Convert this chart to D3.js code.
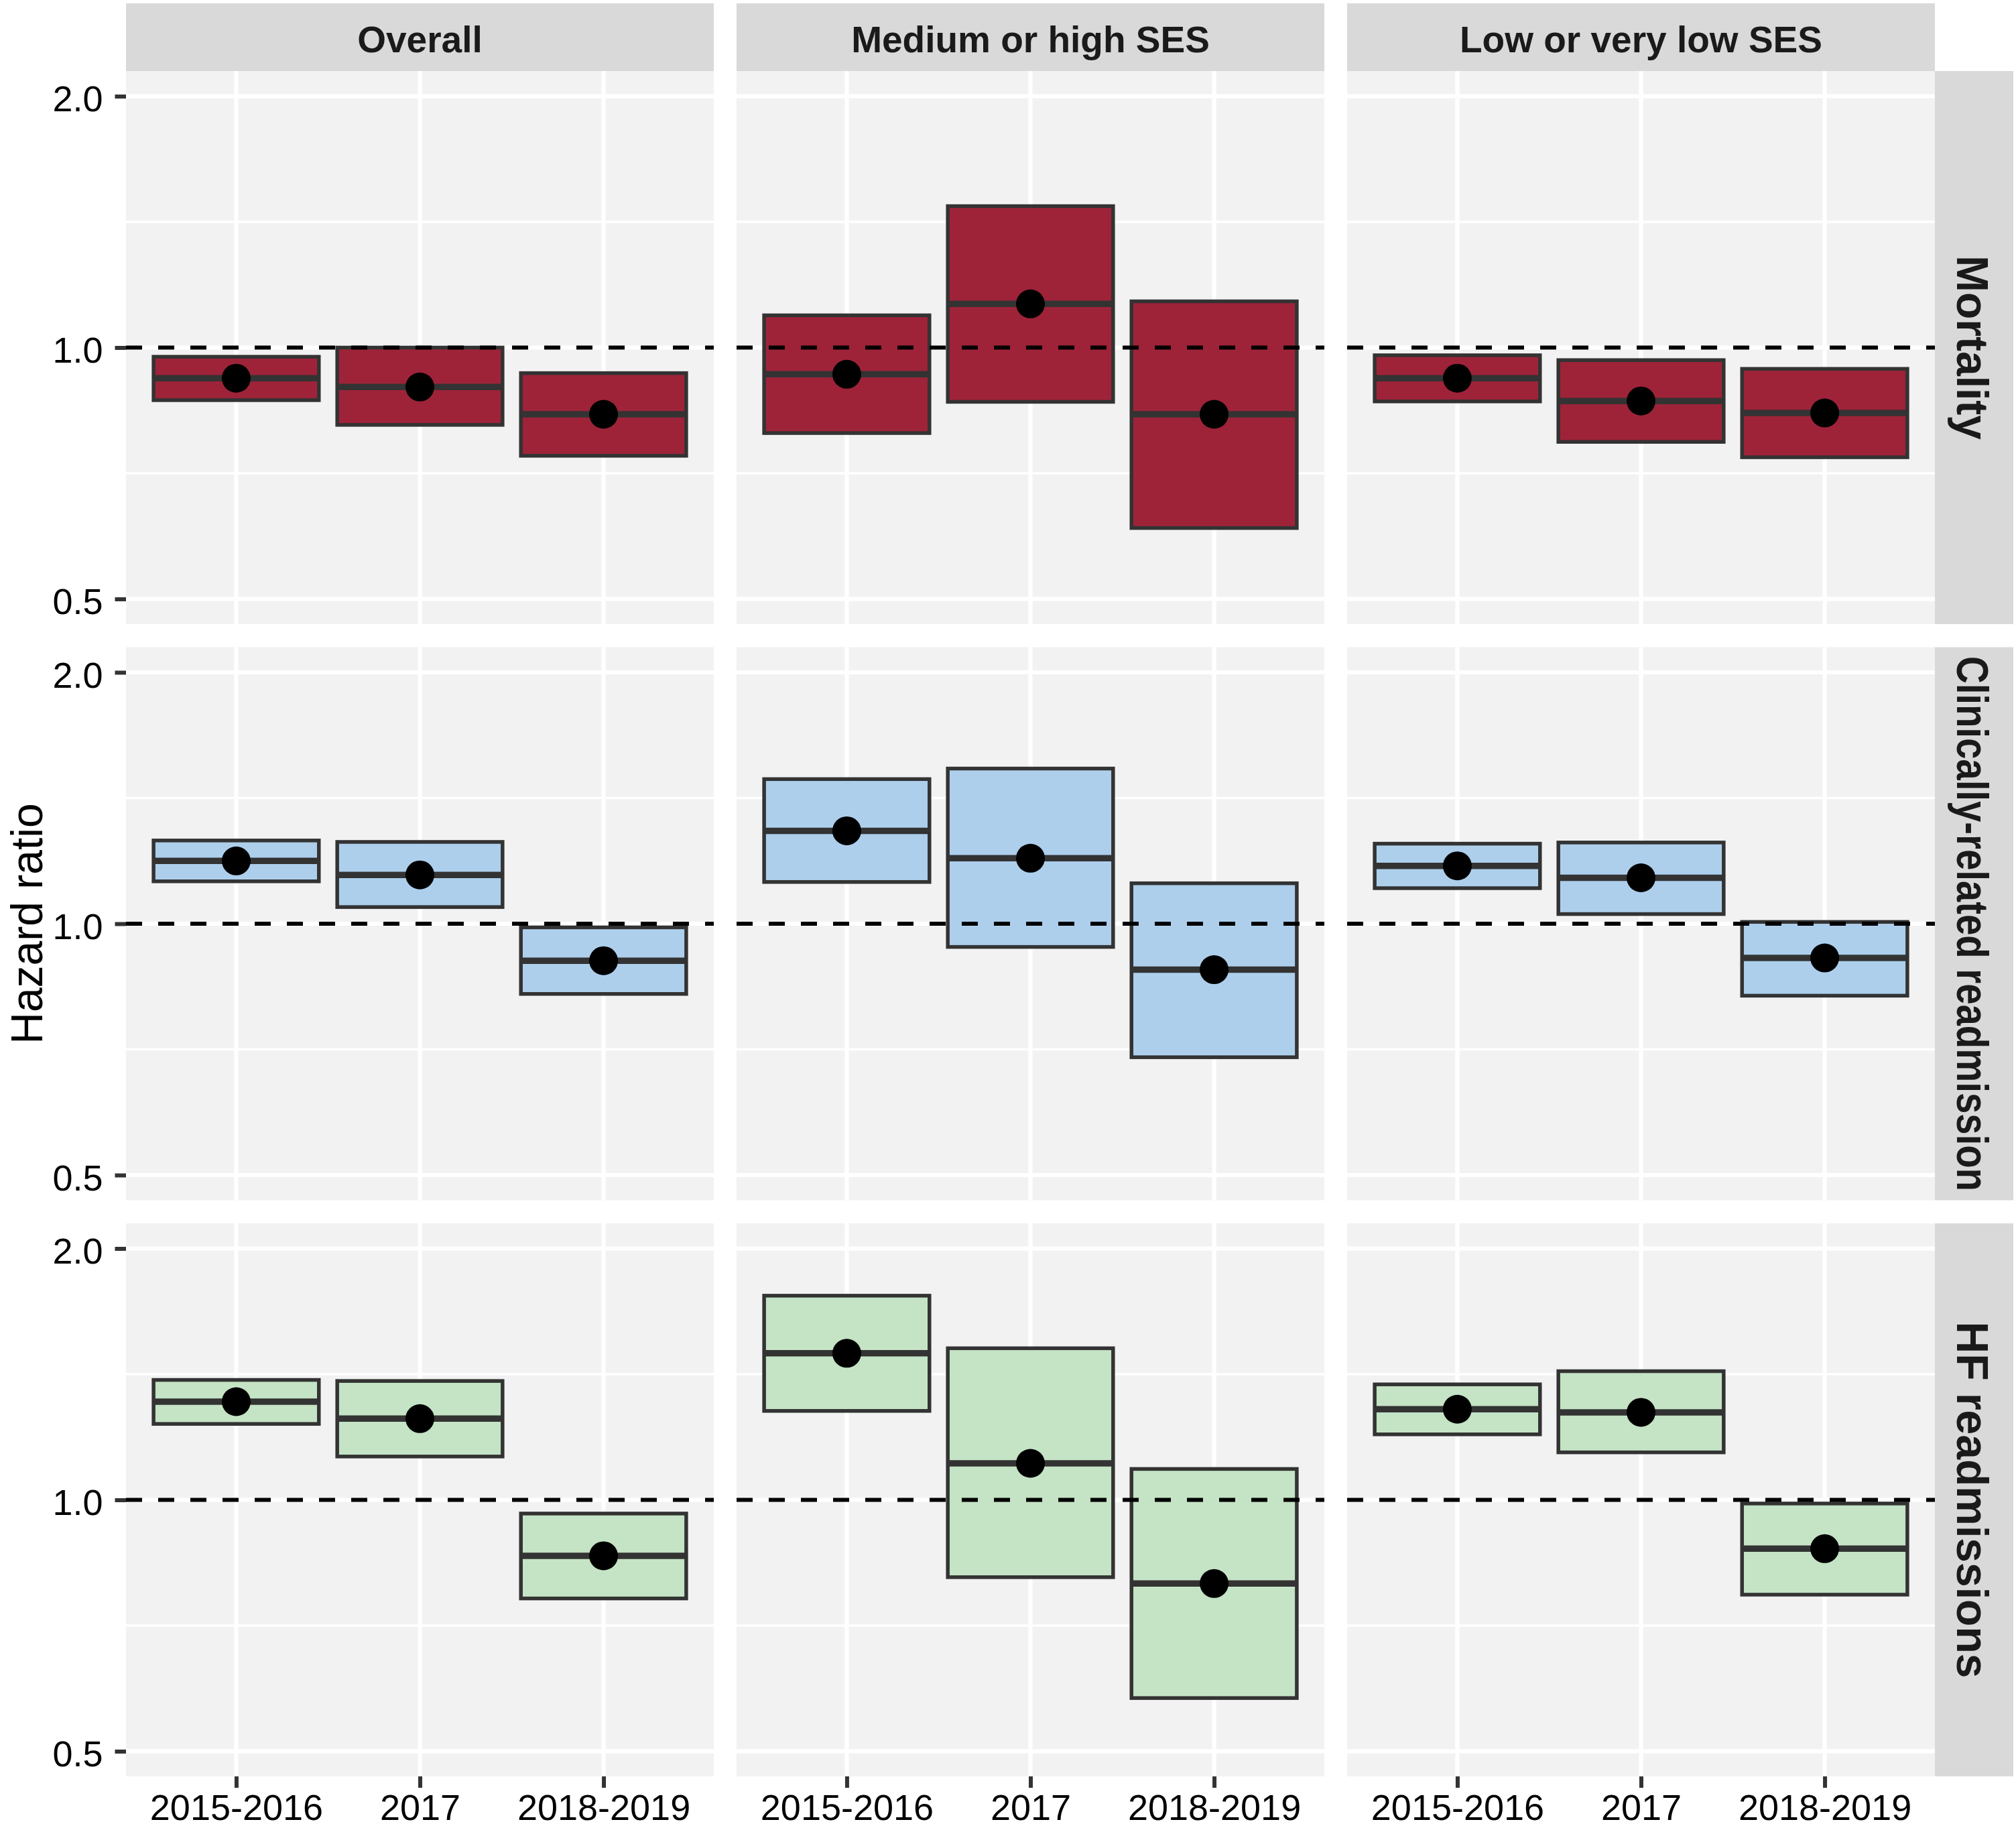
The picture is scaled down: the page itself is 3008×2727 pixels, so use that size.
<!DOCTYPE html>
<html>
<head>
<meta charset="utf-8">
<script src="https://cdn.jsdelivr.net/npm/d3@7"></script>
<style>
  body { margin: 0; background: #ffffff; }
</style>
</head>
<body>
<script>
// layout constants
const width = 3008;
const height = 2727;
const panelLeft = 188;
const panelTop = 106;
const panelW = 877;
const panelH = 825;
const colGap = 34;
const rowGap = 34.5;
const stripTop = 5;
const stripRightW = 117;

// colours
const PANEL = '#F2F2F2';
const STRIP = '#D9D9D9';
const GRID = '#FFFFFF';
const EDGE = '#333333';
const BLACK = '#000000';
const FILLS = ['#9E2339', '#ADCFEC', '#C5E3C5'];
const FONT = '"Liberation Sans", Arial, Helvetica, sans-serif';

// categories
const periods = ['2015-2016', '2017', '2018-2019'];
const groups = ['Overall', 'Medium or high SES', 'Low or very low SES'];
const outcomes = ['Mortality', 'Clinically-related readmission', 'HF readmissions'];

// hazard ratios, one row per SES group, one column per period
const mortalityHR = [[0.919, 0.897, 0.832], [0.929, 1.128, 0.832], [0.919, 0.863, 0.835]];
const mortalityLower = [[0.865, 0.808, 0.742], [0.790, 0.861, 0.608], [0.862, 0.771, 0.739]];
const mortalityUpper = [[0.975, 1.000, 0.932], [1.093, 1.477, 1.136], [0.979, 0.966, 0.943]];

const clinicalHR = [[1.189, 1.144, 0.903], [1.292, 1.198, 0.881], [1.173, 1.135, 0.910]];
const clinicalLower = [[1.124, 1.047, 0.824], [1.122, 0.938, 0.692], [1.103, 1.027, 0.820]];
const clinicalUpper = [[1.258, 1.253, 0.990], [1.490, 1.534, 1.118], [1.247, 1.251, 1.005]];

const hfHR = [[1.311, 1.251, 0.857], [1.498, 1.106, 0.794], [1.284, 1.273, 0.874]];
const hfLower = [[1.233, 1.127, 0.762], [1.278, 0.808, 0.579], [1.198, 1.140, 0.770]];
const hfUpper = [[1.392, 1.388, 0.963], [1.756, 1.519, 1.089], [1.375, 1.426, 0.990]];

// y axis breaks (log scale)
const yBreaks = [0.5, 1.0, 2.0];
const yMinorBreaks = [0.7071, 1.4142];
const yLimits = [0.5, 2.0];
const refLine = 1.0;

const estimates = [mortalityHR, clinicalHR, hfHR];
const lowers = [mortalityLower, clinicalLower, hfLower];
const uppers = [mortalityUpper, clinicalUpper, hfUpper];

// flat list of every crossbar
const rows = [];
outcomes.forEach((o, oi) => {
    groups.forEach((g, gi) => {
        periods.forEach((p, pi) => {
            rows.push({
                outcome: oi, group: gi, period: p,
                hr: estimates[oi][gi][pi],
                lo: lowers[oi][gi][pi],
                hi: uppers[oi][gi][pi]
            });
        });
    });
});

/**
 * left edge of a panel column
 */
function colX(gi) {
    return panelLeft + gi * (panelW + colGap);
}

/**
 * top edge of a panel row
 */
function rowY(oi) {
    return panelTop + oi * (panelH + rowGap);
}

/**
 * x scale for a column (discrete, ggplot style 0.6 expansion)
 */
function xScale(gi) {
    return d3.scalePoint()
        .domain(periods)
        .range([colX(gi), colX(gi) + panelW])
        .padding(0.6);
}

/**
 * y scale for a row (log, 5% expansion)
 */
function yScale(oi) {
    const span = Math.log2(yLimits[1]) - Math.log2(yLimits[0]);
    const pad = Math.pow(2, span * 0.05);
    return d3.scaleLog()
        .domain([yLimits[0] / pad, yLimits[1] * pad])
        .range([rowY(oi) + panelH, rowY(oi)]);
}

function render() {
    const svg = d3.select('body').append('svg')
        .attr('width', width)
        .attr('height', height)
        .style('font-family', FONT);

    svg.append('rect')
        .attr('width', width)
        .attr('height', height)
        .attr('fill', '#ffffff');

    outcomes.forEach((o, oi) => {
        const y = yScale(oi);
        groups.forEach((g, gi) => {
            const x = xScale(gi);
            const x0 = colX(gi);
            const y0 = rowY(oi);
            const p = svg.append('g');

            // panel background
            p.append('rect')
                .attr('x', x0).attr('y', y0)
                .attr('width', panelW).attr('height', panelH)
                .attr('fill', PANEL);

            // minor grid
            p.selectAll('.minor')
                .data(yMinorBreaks)
                .join('line')
                .attr('x1', x0).attr('x2', x0 + panelW)
                .attr('y1', y).attr('y2', y)
                .attr('stroke', GRID)
                .attr('stroke-width', 3.3);

            // major grid
            p.selectAll('.major')
                .data(yBreaks)
                .join('line')
                .attr('x1', x0).attr('x2', x0 + panelW)
                .attr('y1', y).attr('y2', y)
                .attr('stroke', GRID)
                .attr('stroke-width', 6.2);

            p.selectAll('.vgrid')
                .data(periods)
                .join('line')
                .attr('x1', x).attr('x2', x)
                .attr('y1', y0).attr('y2', y0 + panelH)
                .attr('stroke', GRID)
                .attr('stroke-width', 6.2);

            const data = rows.filter(r => r.outcome === oi && r.group === gi);
            const half = x.step() * 0.45;

            // crossbars
            p.selectAll('.box')
                .data(data)
                .join('rect')
                .attr('x', d => x(d.period) - half)
                .attr('y', d => y(d.hi))
                .attr('width', half * 2)
                .attr('height', d => y(d.lo) - y(d.hi))
                .attr('fill', FILLS[oi])
                .attr('stroke', EDGE)
                .attr('stroke-width', 5.5);

            p.selectAll('.mid')
                .data(data)
                .join('line')
                .attr('x1', d => x(d.period) - half)
                .attr('x2', d => x(d.period) + half)
                .attr('y1', d => y(d.hr))
                .attr('y2', d => y(d.hr))
                .attr('stroke', EDGE)
                .attr('stroke-width', 9.5);

            // point estimates
            p.selectAll('.pt')
                .data(data)
                .join('circle')
                .attr('cx', d => x(d.period))
                .attr('cy', d => y(d.hr))
                .attr('r', 21.5)
                .attr('fill', BLACK);

            // reference line at HR = 1
            p.append('line')
                .attr('x1', x0).attr('x2', x0 + panelW)
                .attr('y1', y(refLine)).attr('y2', y(refLine))
                .attr('stroke', BLACK)
                .attr('stroke-width', 6)
                .style('stroke-dasharray', '24, 24');

            // top strips
            if (oi === 0) {
                svg.append('rect')
                    .attr('x', x0).attr('y', stripTop)
                    .attr('width', panelW).attr('height', panelTop - stripTop)
                    .attr('fill', STRIP);
                svg.append('text')
                    .attr('x', x0 + panelW / 2)
                    .attr('y', 78)
                    .attr('text-anchor', 'middle')
                    .attr('font-size', 55)
                    .attr('font-weight', 'bold')
                    .attr('fill', '#1A1A1A')
                    .text(g);
            }
        });

        // right strip
        const sx = colX(2) + panelW;
        svg.append('rect')
            .attr('x', sx).attr('y', rowY(oi))
            .attr('width', stripRightW).attr('height', panelH)
            .attr('fill', STRIP);
        const st = svg.append('text')
            .attr('transform', `translate(${sx + 33},${rowY(oi) + panelH / 2}) rotate(90)`)
            .attr('text-anchor', 'middle')
            .attr('font-size', 66)
            .attr('font-weight', 'bold')
            .attr('fill', '#1A1A1A')
            .text(o);
        if (st.node().getComputedTextLength() > 800) {
            st.attr('textLength', 798).attr('lengthAdjust', 'spacingAndGlyphs');
        }

        // y axis
        const ya = svg.append('g')
            .attr('transform', `translate(${panelLeft},0)`)
            .call(d3.axisLeft(y)
                .tickValues(yBreaks)
                .tickFormat(d3.format('.1f'))
                .tickSize(16.5)
                .tickPadding(18));
        ya.select('.domain').remove();
        ya.selectAll('line').attr('stroke', EDGE).attr('stroke-width', 6);
        ya.selectAll('text')
            .attr('dy', '0.41em')
            .attr('font-size', 54)
            .attr('font-family', FONT)
            .attr('fill', BLACK);
    });

    // x axes under the bottom row
    groups.forEach((g, gi) => {
        const xa = svg.append('g')
            .attr('transform', `translate(0,${rowY(2) + panelH})`)
            .call(d3.axisBottom(xScale(gi))
                .tickSize(17)
                .tickPadding(10));
        xa.select('.domain').remove();
        xa.selectAll('line').attr('stroke', EDGE).attr('stroke-width', 6);
        xa.selectAll('text')
            .attr('font-size', 54)
            .attr('font-family', FONT)
            .attr('fill', BLACK);
    });

    // y axis title
    svg.append('text')
        .attr('transform', `translate(63,${rowY(1) + panelH / 2}) rotate(-90)`)
        .attr('text-anchor', 'middle')
        .attr('font-size', 66)
        .attr('fill', BLACK)
        .text('Hazard ratio');
}

render();
</script>
</body>
</html>
